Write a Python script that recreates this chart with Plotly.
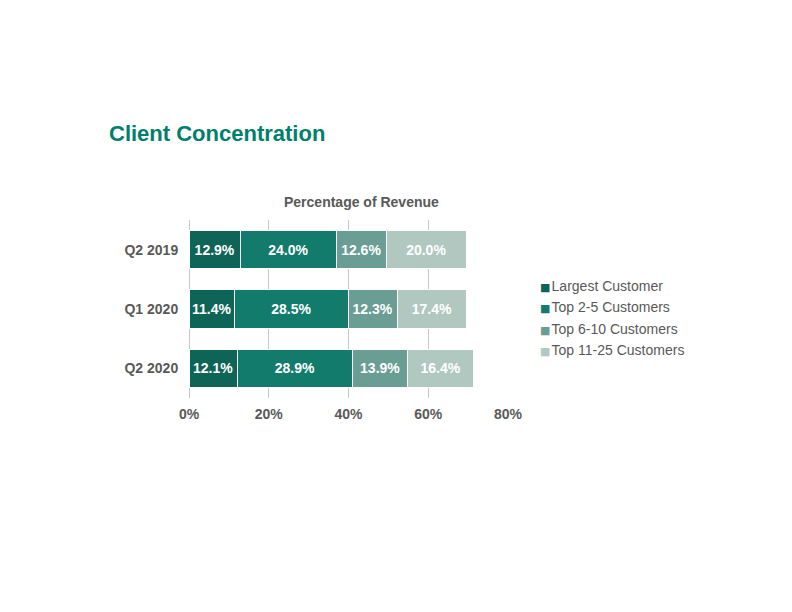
import plotly.graph_objects as go

categories = ["Q2 2019", "Q1 2020", "Q2 2020"]
series_names = ["Largest Customer", "Top 2-5 Customers", "Top 6-10 Customers", "Top 11-25 Customers"]
largest = [12.9, 11.4, 12.1]
top_2_5 = [24.0, 28.5, 28.9]
top_6_10 = [12.6, 12.3, 13.9]
top_11_25 = [20.0, 17.4, 16.4]
colors = ["#0e6457", "#127b6b", "#6a9e94", "#b1c8c1"]
tick_vals = [0, 20, 40, 60, 80]
tick_text = ["0%", "20%", "40%", "60%", "80%"]

FONT = "Liberation Sans, Arial, sans-serif"
fig = go.Figure()
for name, vals, col in zip(series_names, [largest, top_2_5, top_6_10, top_11_25], colors):
    fig.add_trace(go.Bar(
        y=categories, x=vals, name=name, orientation="h", showlegend=False,
        marker=dict(color=col, line=dict(color="white", width=1)),
        text=[f"{v:.1f}%" for v in vals], textposition="inside",
        insidetextanchor="middle", textangle=0,
        textfont=dict(color="white", size=14, family=FONT, weight="bold"),
        hoverinfo="skip",
    ))

PW, PH = 319, 178
annotations = [
    dict(text="<b>Client Concentration</b>", xref="paper", yref="paper",
         x=(107 - 189) / PW, y=(398 - 133) / PH, xanchor="left", yanchor="middle",
         showarrow=False, font=dict(size=22, color="#00806b", family=FONT)),
    dict(text="<b>Percentage of Revenue</b>", xref="paper", yref="paper",
         x=(361 - 189) / PW, y=(398 - 202) / PH, xanchor="center", yanchor="middle",
         showarrow=False, font=dict(size=14, color="#595959", family=FONT)),
]
for i, (name, col) in enumerate(zip(series_names, colors)):
    yc = 286 + i * 21.3
    annotations.append(dict(
        text=f"<span style='color:{col};font-size:11px;font-family:DejaVu Sans'>■</span>&#8202;{name}",
        xref="paper", yref="paper", x=(538 - 189) / PW, y=(398 - yc) / PH,
        xanchor="left", yanchor="middle", showarrow=False,
        font=dict(size=14, color="#595959", family=FONT)))

fig.update_layout(
    barmode="stack",
    width=792, height=612,
    paper_bgcolor="white", plot_bgcolor="white",
    margin=dict(l=189, r=284, t=220, b=214),
    bargap=0.35,
    showlegend=False,
    font=dict(family=FONT, color="#595959", size=13),
    uniformtext=dict(minsize=14, mode="show"),
    xaxis=dict(range=[0, 80], tickvals=tick_vals, ticktext=tick_text,
               showgrid=True, gridcolor="#c8c8c8", gridwidth=1, zeroline=True,
               zerolinecolor="#c8c8c8", zerolinewidth=1,
               tickfont=dict(size=14, weight="bold", color="#595959"),
               showline=False, ticks="outside", ticklen=3, tickcolor="white", fixedrange=True),
    yaxis=dict(autorange="reversed", tickfont=dict(size=14, weight="bold", color="#595959"),
               showline=False, ticks="outside", ticklen=7, tickcolor="white", showgrid=False),
    annotations=annotations,
)

fig.write_html("out.html")
